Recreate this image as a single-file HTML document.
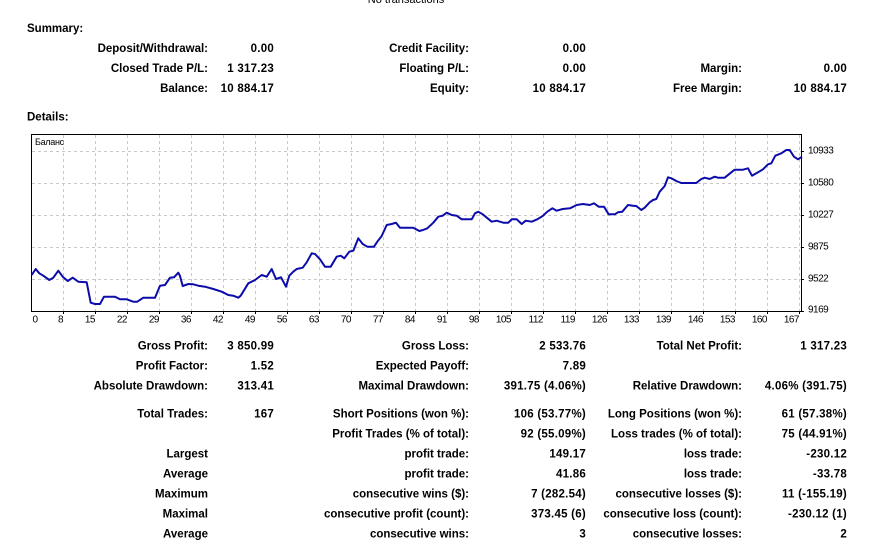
<!DOCTYPE html>
<html><head><meta charset="utf-8"><style>
html,body{margin:0;padding:0;background:#fff;}
svg{display:block;}
.b{font-family:"Liberation Sans",sans-serif;font-weight:bold;font-size:11.5px;fill:#000;}
.n{letter-spacing:0.25px;}
.ax{font-family:"Liberation Sans","Noto Sans CJK SC",sans-serif;font-size:10px;fill:#000;letter-spacing:-0.5px;}
</style></head><body>
<svg width="878" height="540" viewBox="0 0 878 540" xmlns="http://www.w3.org/2000/svg">
<rect width="878" height="540" fill="#fff"/>
<text x="406" y="3" text-anchor="middle" style="font-family:'Liberation Sans',sans-serif;font-size:11px;fill:#000">No transactions</text>

<g class="b">
<text x="27" y="32">Summary:</text>
<g text-anchor="end">
<text x="208" y="52">Deposit/Withdrawal:</text>
<text x="274" y="52" class="n">0.00</text>
<text x="469" y="52">Credit Facility:</text>
<text x="586" y="52" class="n">0.00</text>

<text x="208" y="72">Closed Trade P/L:</text>
<text x="274" y="72" class="n">1 317.23</text>
<text x="469" y="72">Floating P/L:</text>
<text x="586" y="72" class="n">0.00</text>
<text x="742" y="72">Margin:</text>
<text x="847" y="72" class="n">0.00</text>

<text x="208" y="92">Balance:</text>
<text x="274" y="92" class="n">10 884.17</text>
<text x="469" y="92">Equity:</text>
<text x="586" y="92" class="n">10 884.17</text>
<text x="742" y="92">Free Margin:</text>
<text x="847" y="92" class="n">10 884.17</text>
</g>
<text x="27" y="120.5">Details:</text>
</g>

<!-- chart -->
<g stroke="#c8c8c8" stroke-width="1" stroke-dasharray="3,3" fill="none">
<path d="M63.5 135V311M95.5 135V311M127.5 135V311M159.5 135V311M191.5 135V311M223.5 135V311M255.5 135V311M287.5 135V311M319.5 135V311M351.5 135V311M383.5 135V311M415.5 135V311M447.5 135V311M479.5 135V311M511.5 135V311M543.5 135V311M575.5 135V311M607.5 135V311M639.5 135V311M671.5 135V311M703.5 135V311M735.5 135V311M767.5 135V311M799.5 135V311"/>
<path d="M32 151.5H801M32 183.5H801M32 215.5H801M32 247.5H801M32 279.5H801"/>
</g>
<rect x="31.5" y="134.5" width="770" height="177" fill="none" stroke="#000" stroke-width="1"/>
<g stroke="#000" stroke-width="1">
<path d="M63.5 312V314M95.5 312V314M127.5 312V314M159.5 312V314M191.5 312V314M223.5 312V314M255.5 312V314M287.5 312V314M319.5 312V314M351.5 312V314M383.5 312V314M415.5 312V314M447.5 312V314M479.5 312V314M511.5 312V314M543.5 312V314M575.5 312V314M607.5 312V314M639.5 312V314M671.5 312V314M703.5 312V314M735.5 312V314M767.5 312V314M799.5 312V314"/>
<path d="M802 151.5H804M802 183.5H804M802 215.5H804M802 247.5H804M802 279.5H804M802 311.5H804"/>
</g>
<text x="35" y="145" style="font-family:'Liberation Sans',sans-serif;font-size:9px;letter-spacing:-0.3px;fill:#000">Баланс</text>

<polyline fill="none" stroke="#0c0caa" stroke-width="2" stroke-linejoin="round" points="31.7,275 35.7,269 39.3,273.3 43.3,275.7 49.3,280 53.3,277.7 58.3,270.7 62.7,276.7 67.7,281 72.7,277.7 78.3,281.7 86.7,282.3 90.7,302.7 95,304 100,304 104,296.7 115,296.7 120,299.3 126.7,299.3 133.3,301.7 137.3,301.7 143.3,297.7 155,297.7 160,285.7 165,285 170,277.7 174,277.3 178.3,272.7 180,276 182.7,286 188.3,284 193.3,284.3 198.3,285.7 205,286.7 213.3,289 221.7,291.7 228.3,295 233.3,295.7 238.3,297.7 240.7,295.7 248.3,283.3 255,280 261.7,275 266.7,276.7 271.7,269 276,279 281,277.3 286,286.7 289.3,275.7 293.3,271.7 296.7,269 302.7,267.7 306.7,262.3 311.7,253.3 315,254 320,259.3 325,266.7 330.7,266.7 336.7,256.7 340.7,255.7 344.3,258.3 349.3,251.7 353.3,250.7 358.3,238.3 362.7,244 367.3,246.7 374,246.7 377.3,241.7 381.7,236 386.7,225 391.7,224 396,222.7 400,227.7 413.3,227.7 419.3,231 423,230 427.3,228.3 433.3,222.7 438.3,216.7 442.7,215.7 446.7,212.7 451.7,215 456.7,215.7 461.7,219.3 471.7,219.3 475,213.3 478.3,211.7 482.7,214.3 491.7,221.7 496.7,220.7 503.3,222.7 508.3,222.7 511.7,219.3 516.7,219.3 521.7,224 525.7,220.7 531.7,221.7 537.3,219.3 542.7,216 547.3,211.7 552.3,208.3 556.7,210.7 562.7,209 570,208.3 576.7,205 583,204 589.7,205 594,203.3 598.7,206.7 604,206.7 608.7,214.3 614.7,214.3 618,212.3 622.3,211.7 628,205 633,205.7 636.3,206 641.3,210 644.7,207.7 649.7,202.3 653,200 656.3,199 659.7,191.7 664.7,186 668,177.3 671.3,178.3 676.3,181 681.3,183 696.3,183 701.3,179 704.7,177.7 709.7,179 714.7,176.7 718,177.7 724.7,177.7 731.3,172.3 734.7,169.7 743,169.7 748,168.3 752,175.7 758,172.3 763,169.3 768,164.3 771.3,163.3 775.3,155.7 781.3,153.3 786.3,150 789.7,150 794,156.7 798,159.3 802,156.7"/>

<g class="ax">
<text x="808" y="153.5">10933</text>
<text x="808" y="185.5">10580</text>
<text x="808" y="217.5">10227</text>
<text x="808" y="249.5">9875</text>
<text x="808" y="281.5">9522</text>
<text x="808" y="312.5">9169</text>
<text x="32.5" y="322.5">0</text>
<g text-anchor="end">
<text x="63" y="322.5">8</text>
<text x="95" y="322.5">15</text>
<text x="127" y="322.5">22</text>
<text x="159" y="322.5">29</text>
<text x="191" y="322.5">36</text>
<text x="223" y="322.5">42</text>
<text x="255" y="322.5">49</text>
<text x="287" y="322.5">56</text>
<text x="319" y="322.5">63</text>
<text x="351" y="322.5">70</text>
<text x="383" y="322.5">77</text>
<text x="415" y="322.5">84</text>
<text x="447" y="322.5">91</text>
<text x="479" y="322.5">98</text>
<text x="511" y="322.5">105</text>
<text x="543" y="322.5">112</text>
<text x="575" y="322.5">119</text>
<text x="607" y="322.5">126</text>
<text x="639" y="322.5">133</text>
<text x="671" y="322.5">139</text>
<text x="703" y="322.5">146</text>
<text x="735" y="322.5">153</text>
<text x="767" y="322.5">160</text>
<text x="799" y="322.5">167</text>
</g>
</g>

<!-- bottom table -->
<g class="b" text-anchor="end">
<text x="208" y="349.5">Gross Profit:</text>
<text x="274" y="349.5" class="n">3 850.99</text>
<text x="469" y="349.5">Gross Loss:</text>
<text x="586" y="349.5" class="n">2 533.76</text>
<text x="742" y="349.5">Total Net Profit:</text>
<text x="847" y="349.5" class="n">1 317.23</text>

<text x="208" y="369.5">Profit Factor:</text>
<text x="274" y="369.5" class="n">1.52</text>
<text x="469" y="369.5">Expected Payoff:</text>
<text x="586" y="369.5" class="n">7.89</text>

<text x="208" y="389.5">Absolute Drawdown:</text>
<text x="274" y="389.5" class="n">313.41</text>
<text x="469" y="389.5">Maximal Drawdown:</text>
<text x="586" y="389.5" class="n">391.75 (4.06%)</text>
<text x="742" y="389.5">Relative Drawdown:</text>
<text x="847" y="389.5" class="n">4.06% (391.75)</text>

<text x="208" y="417.5">Total Trades:</text>
<text x="274" y="417.5" class="n">167</text>
<text x="469" y="417.5">Short Positions (won %):</text>
<text x="586" y="417.5" class="n">106 (53.77%)</text>
<text x="742" y="417.5">Long Positions (won %):</text>
<text x="847" y="417.5" class="n">61 (57.38%)</text>

<text x="469" y="437.5">Profit Trades (% of total):</text>
<text x="586" y="437.5" class="n">92 (55.09%)</text>
<text x="742" y="437.5">Loss trades (% of total):</text>
<text x="847" y="437.5" class="n">75 (44.91%)</text>

<text x="208" y="457.5">Largest</text>
<text x="469" y="457.5">profit trade:</text>
<text x="586" y="457.5" class="n">149.17</text>
<text x="742" y="457.5">loss trade:</text>
<text x="847" y="457.5" class="n">-230.12</text>

<text x="208" y="477.5">Average</text>
<text x="469" y="477.5">profit trade:</text>
<text x="586" y="477.5" class="n">41.86</text>
<text x="742" y="477.5">loss trade:</text>
<text x="847" y="477.5" class="n">-33.78</text>

<text x="208" y="497.5">Maximum</text>
<text x="469" y="497.5">consecutive wins ($):</text>
<text x="586" y="497.5" class="n">7 (282.54)</text>
<text x="742" y="497.5">consecutive losses ($):</text>
<text x="847" y="497.5" class="n">11 (-155.19)</text>

<text x="208" y="517.5">Maximal</text>
<text x="469" y="517.5">consecutive profit (count):</text>
<text x="586" y="517.5" class="n">373.45 (6)</text>
<text x="742" y="517.5">consecutive loss (count):</text>
<text x="847" y="517.5" class="n">-230.12 (1)</text>

<text x="208" y="537.5">Average</text>
<text x="469" y="537.5">consecutive wins:</text>
<text x="586" y="537.5" class="n">3</text>
<text x="742" y="537.5">consecutive losses:</text>
<text x="847" y="537.5" class="n">2</text>
</g>
</svg>
</body></html>
